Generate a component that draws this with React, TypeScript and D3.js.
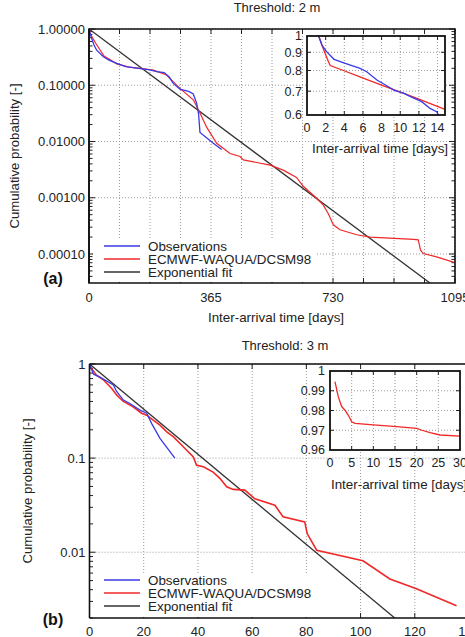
import React from 'react';
import * as d3 from 'd3';

type Pt = [number, number];

// Threshold 2 m: [days, cumulative probability]
const obsA: Pt[] = [
    [0, 1], [3, 0.85], [8, 0.68], [15, 0.52], [23, 0.42], [43, 0.32], [60, 0.28],
    [83, 0.245], [110, 0.215], [132, 0.205], [160, 0.195], [182, 0.187], [202, 0.174],
    [225, 0.168], [240, 0.14], [252, 0.108], [272, 0.085], [300, 0.077], [312, 0.07],
    [322, 0.048], [328, 0.03], [332, 0.0145], [347, 0.0123], [370, 0.0095], [397, 0.0072]
];
const modelA: Pt[] = [
    [0, 1], [5, 0.8], [20, 0.557], [45, 0.33], [83, 0.24], [120, 0.21], [152, 0.2],
    [193, 0.186], [232, 0.152], [272, 0.088], [312, 0.055], [332, 0.032], [352, 0.018],
    [382, 0.0093], [422, 0.0061], [452, 0.0054], [462, 0.0047], [542, 0.0038],
    [581, 0.0031], [621, 0.0023], [641, 0.0016], [681, 0.00098], [701, 0.00074],
    [716, 0.00052], [731, 0.00033], [751, 0.00027], [801, 0.00022], [841, 0.0002],
    [971, 0.000182], [985, 0.000178], [992, 0.000117], [1000, 0.000102],
    [1040, 0.000089], [1095, 0.00007]
];
const fitA: Pt[] = [[0, 1], [1020, 3.05e-5]];
const insetObsA: Pt[] = [
    [1.25, 1], [1.6, 0.943], [2.1, 0.904], [2.9, 0.86], [4.1, 0.838], [5.7, 0.811],
    [6.4, 0.794], [7.5, 0.752], [8.6, 0.724], [9.3, 0.705], [10.4, 0.69], [11.1, 0.676],
    [12.3, 0.654], [13.2, 0.626], [13.9, 0.613], [14.1, 0.6]
];
const insetModelA: Pt[] = [
    [1.25, 1], [1.8, 0.913], [2.3, 0.847], [2.5, 0.826], [3.9, 0.8], [6.1, 0.76],
    [8.2, 0.724], [9.6, 0.702], [11.8, 0.668], [14.8, 0.622]
];

// Threshold 3 m
const obsB: Pt[] = [
    [0, 1], [0.5, 0.92], [1.5, 0.78], [4, 0.72], [8.8, 0.6], [10, 0.51], [12.5, 0.414],
    [14.9, 0.38], [18.6, 0.324], [21.1, 0.3], [22.9, 0.234], [26, 0.162], [31.5, 0.1]
];
const modelB: Pt[] = [
    [0, 0.955], [2.6, 0.76], [5.1, 0.68], [8.2, 0.55], [10, 0.47], [12.5, 0.4],
    [16.1, 0.35], [19.2, 0.3], [21.1, 0.286], [23.5, 0.253], [26, 0.224], [28.5, 0.19],
    [30.9, 0.169], [34.6, 0.132], [38.3, 0.103], [39.5, 0.084], [42, 0.081],
    [45.6, 0.071], [48.1, 0.061], [50.6, 0.0495], [53, 0.0465], [57.3, 0.0457],
    [61, 0.037], [68.4, 0.0316], [71.4, 0.0238], [79.4, 0.021], [80.3, 0.0158],
    [83.8, 0.0105], [100.9, 0.0081], [110.8, 0.0052], [120.6, 0.0041], [135.4, 0.0027]
];
const fitB: Pt[] = [[0, 1], [112.6, 0.002]];
const insetModelB: Pt[] = [
    [1.15, 0.9946], [1.9, 0.987], [2.7, 0.982], [3.5, 0.98], [4.2, 0.9777], [5, 0.9743],
    [5.8, 0.9735], [10, 0.9727], [15.4, 0.9718], [20, 0.971], [21.2, 0.97],
    [23.1, 0.9688], [25.4, 0.9676], [30, 0.967]
];

const xTicksA = [0, 365, 730, 1095];
const yTicksA = [1, 0.1, 0.01, 0.001, 0.0001];
const yLabelsA = ['1.00000', '0.10000', '0.01000', '0.00100', '0.00010'];
const xTicksB = [0, 20, 40, 60, 80, 100, 120, 140];
const yTicksB = [1, 0.1, 0.01];
const yLabelsB = ['1', '0.1', '0.01'];
const insetXTicksA = [0, 2, 4, 6, 8, 10, 12, 14];
const insetYTicksA = [1, 0.9, 0.8, 0.7, 0.6];
const insetXTicksB = [0, 5, 10, 15, 20, 25, 30];
const insetYTicksB = [1, 0.99, 0.98, 0.97, 0.96];

const legendNames = ['Observations', 'ECMWF-WAQUA/DCSM98', 'Exponential fit'];
const BLUE = '#3a3ae8';
const RED = '#f02828';
const BLACK = '#333';
const GRID = '#9a9a9a';
const FONT = '"Liberation Sans", Arial, Helvetica, sans-serif';

function minorLogTicks(lo: number, hi: number) {
    const out: number[] = [];
    for (let e = Math.floor(Math.log10(lo)); e <= Math.ceil(Math.log10(hi)); e++) {
        for (let k = 1; k <= 9; k++) {
            const v = k * Math.pow(10, e);
            if (v >= lo && v <= hi) out.push(v);
        }
    }
    return out;
}

function Panel(props: any) {
    const { id, x, y, xGrid, xTicks, yTicks, yLabels, obs, model, fit, label, labelY, title,
        titleX, titleY, ylabX, legendY, legendBox, modelWidth, showRight, xTickY } = props;
    const [x0, x1] = x.range();
    const [y0, y1] = y.range(); // bottom, top
    const line = d3.line<Pt>().x(d => x(d[0])).y(d => y(d[1]));
    const minors = minorLogTicks(y.domain()[0], y.domain()[1]);
    return (
        <g>
            <defs>
                <clipPath id={id}>
                    <rect x={x0} y={y1} width={x1 - x0} height={y0 - y1} />
                </clipPath>
            </defs>
            <text x={titleX} y={titleY} dy="0.35em" textAnchor="middle" fontSize={13} fill="#222">{title}</text>
            {xGrid.map((v: number) => (
                <line key={'gx' + v} x1={x(v)} x2={x(v)} y1={y0} y2={y1}
                    stroke={GRID} strokeWidth={1} strokeDasharray="1,2" />
            ))}
            {yTicks.map((v: number) => (
                <line key={'gy' + v} x1={x0} x2={x1} y1={y(v)} y2={y(v)}
                    stroke={GRID} strokeWidth={1} strokeDasharray="1,2" />
            ))}
            {minors.map(v => (
                <g key={'m' + v}>
                    <line x1={x0} x2={x0 + (yTicks.includes(v) ? 6 : 3.5)} y1={y(v)} y2={y(v)} stroke="#222" />
                    {showRight && <line x1={x1} x2={x1 - (yTicks.includes(v) ? 6 : 3.5)} y1={y(v)} y2={y(v)} stroke="#222" />}
                </g>
            ))}
            {xGrid.map((v: number) => (
                <g key={'tx' + v}>
                    <line x1={x(v)} x2={x(v)} y1={y0} y2={y0 - 5} stroke="#222" />
                    <line x1={x(v)} x2={x(v)} y1={y1} y2={y1 + 5} stroke="#222" />
                </g>
            ))}
            <g clipPath={`url(#${id})`}>
                <path d={line(fit) || ''} fill="none" stroke={BLACK} strokeWidth={1.3} />
                <path d={line(model) || ''} fill="none" stroke={RED} strokeWidth={modelWidth} />
                <path d={line(obs) || ''} fill="none" stroke={BLUE} strokeWidth={1.3} />
            </g>
            <rect x={legendBox[0]} y={legendBox[1]} width={legendBox[2]} height={legendBox[3]} fill="white" />
            {legendNames.map((n, i) => (
                <g key={n}>
                    <line x1={104} x2={140} y1={legendY[i]} y2={legendY[i]}
                        stroke={[BLUE, RED, BLACK][i]} strokeWidth={1.6} />
                    <text x={148} y={legendY[i]} dy="0.35em" fontSize={13.4} fill="#222">{n}</text>
                </g>
            ))}
            <path d={`M${x0},${y1}H${x1}${showRight ? `V${y0}` : `M${x1},${y0}`}H${x0}Z`}
                fill="none" stroke="#111" strokeWidth={1.6} />
            <line x1={x0} x2={x0} y1={y1} y2={y0} stroke="#111" strokeWidth={1.6} />
            {yTicks.map((v: number, i: number) => (
                <text key={'ly' + v} x={x0 - 4} y={y(v)} dy="0.35em" textAnchor="end" fontSize={13} fill="#222">
                    {yLabels[i]}
                </text>
            ))}
            {xTicks.map((v: number) => (
                <text key={'lx' + v} x={x(v)} y={xTickY} dy="0.35em" textAnchor="middle" fontSize={13} fill="#222">
                    {v}
                </text>
            ))}
            <text transform={`translate(${ylabX},${(y0 + y1) / 2}) rotate(-90)`} textAnchor="middle"
                dy="0.35em" fontSize={13.2} fill="#222">Cumulative probability [-]</text>
            <text x={53} y={labelY} dy="0.35em" textAnchor="middle" fontSize={16} fontWeight="bold" fill="#111">{label}</text>
        </g>
    );
}

function Inset(props: any) {
    const { x, y, xTicks, yTicks, yFmt, xGrid, yGrid, series, labelX, labelY } = props;
    const [x0, x1] = x.range();
    const [y0, y1] = y.range();
    const line = d3.line<Pt>().x(d => x(d[0])).y(d => y(d[1]));
    return (
        <g>
            <rect x={x0} y={y1} width={x1 - x0} height={y0 - y1} fill="white" />
            {xGrid.map((v: number) => (
                <g key={'g' + v}>
                    <line x1={x(v)} x2={x(v)} y1={y0} y2={y1} stroke={GRID} strokeDasharray="1,2" />
                    <line x1={x(v)} x2={x(v)} y1={y0} y2={y0 - 4} stroke="#222" />
                    <line x1={x(v)} x2={x(v)} y1={y1} y2={y1 + 4} stroke="#222" />
                </g>
            ))}
            {yGrid.map((v: number) => (
                <g key={'h' + v}>
                    <line x1={x0} x2={x1} y1={y(v)} y2={y(v)} stroke={GRID} strokeDasharray="1,2" />
                    <line x1={x0} x2={x0 + 4} y1={y(v)} y2={y(v)} stroke="#222" />
                    <line x1={x1} x2={x1 - 4} y1={y(v)} y2={y(v)} stroke="#222" />
                </g>
            ))}
            {series.map((s: any, i: number) => (
                <path key={i} d={line(s.data) || ''} fill="none" stroke={s.color} strokeWidth={1.3} />
            ))}
            <rect x={x0} y={y1} width={x1 - x0} height={y0 - y1} fill="none" stroke="#111" strokeWidth={1.8} />
            {yTicks.map((v: number) => (
                <text key={'ly' + v} x={x0 - 5} y={y(v)} dy="0.35em" textAnchor="end" fontSize={12.5} fill="#222">
                    {yFmt(v)}
                </text>
            ))}
            {xTicks.map((v: number) => (
                <text key={'lx' + v} x={x(v)} y={y0 + 13} dy="0.35em" textAnchor="middle" fontSize={12.5} fill="#222">
                    {v}
                </text>
            ))}
            <text x={labelX} y={labelY} dy="0.35em" textAnchor="middle" fontSize={13.4} fill="#222">
                Inter-arrival time [days]
            </text>
        </g>
    );
}

export default function App() {
    const xA = d3.scaleLinear().domain([0, 1095]).range([89, 455]);
    const yA = d3.scaleLog().domain([3.05e-5, 1]).range([283, 29]);
    const xB = d3.scaleLinear().domain([0, 140]).range([89.5, 469]);
    const yB = d3.scaleLog().domain([0.002, 1]).range([618, 364]);
    const xIA = d3.scaleLinear().domain([0, 14.8]).range([307, 445]);
    const yIA = d3.scaleLog().domain([0.6, 1]).range([115, 36]);
    const xIB = d3.scaleLinear().domain([0, 30]).range([330, 460]);
    const yIB = d3.scaleLinear().domain([0.96, 1]).range([450, 371]);

    return (
        <svg width={465} height={637} style={{ position: 'absolute', left: 0, top: 0, overflow: 'hidden', background: 'white' }}
            fontFamily={FONT}>
            <Panel id="clipA" x={xA} y={yA} xGrid={d3.range(0, 1096, 91.25)} xTicks={xTicksA}
                yTicks={yTicksA} yLabels={yLabelsA} obs={obsA} model={modelA} fit={fitA}
                label="(a)" labelY={278} title="Threshold: 2 m" titleX={277} titleY={7} ylabX={14}
                legendY={[246, 259, 272]} legendBox={[93, 238, 222, 44]} modelWidth={1.2} showRight={true}
                xTickY={297} />
            <text x={276} y={317} dy="0.35em" textAnchor="middle" fontSize={13.4} fill="#222">Inter-arrival time [days]</text>
            <Inset x={xIA} y={yIA} xTicks={insetXTicksA} yTicks={insetYTicksA} yFmt={(v: number) => String(v)}
                xGrid={[2, 4, 6, 8, 10, 12, 14]} yGrid={[0.9, 0.8, 0.7]}
                series={[{ data: insetModelA, color: RED }, { data: insetObsA, color: BLUE }]} labelX={380} labelY={148} />
            <Panel id="clipB" x={xB} y={yB} xGrid={d3.range(0, 141, 20)} xTicks={xTicksB}
                yTicks={yTicksB} yLabels={yLabelsB} obs={obsB} model={modelB} fit={fitB}
                label="(b)" labelY={619} title="Threshold: 3 m" titleX={285} titleY={345} ylabX={27}
                legendY={[580, 593, 606]} legendBox={[93, 573, 222, 44]} modelWidth={1.6} showRight={false}
                xTickY={631} />
            <Inset x={xIB} y={yIB} xTicks={insetXTicksB} yTicks={insetYTicksB} yFmt={(v: number) => String(v)}
                xGrid={[5, 10, 15, 20, 25]} yGrid={[0.99, 0.98, 0.97]}
                series={[{ data: insetModelB, color: RED }]} labelX={399} labelY={484} />
        </svg>
    );
}
